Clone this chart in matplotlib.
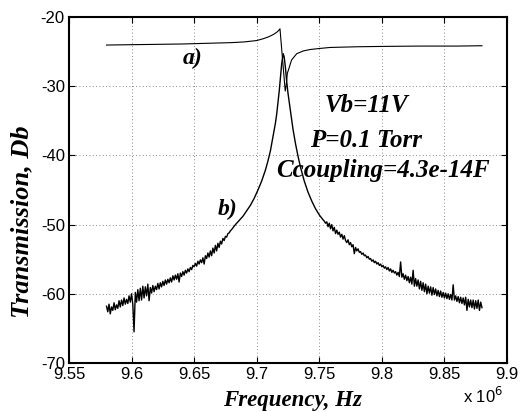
import numpy as np
import matplotlib
matplotlib.use('Agg')
import matplotlib.pyplot as plt

plt.rcParams['axes.unicode_minus'] = False

# Curva a) : transmision casi plana con la resonancia cerca de 9.72 MHz
freq_a = [9.580, 9.600, 9.620, 9.640, 9.660, 9.680, 9.690, 9.700, 9.705, 9.709,
          9.712, 9.714, 9.716, 9.7175, 9.7186, 9.7228, 9.7235, 9.7245, 9.7253,
          9.7279, 9.732, 9.7373, 9.7426, 9.750, 9.7586, 9.780, 9.800, 9.830,
          9.860, 9.880]
db_a = [-24.05, -24.0, -23.95, -23.9, -23.8, -23.7, -23.6, -23.4, -23.15, -22.9,
        -22.65, -22.45, -22.2, -21.95, -21.7, -30.7, -30.0, -28.1, -27.7,
        -26.2, -25.3, -24.9, -24.7, -24.55, -24.4, -24.3, -24.25, -24.2,
        -24.2, -24.15]

# Curva b) : lado izquierdo con ruido (9.580 .. 9.680, paso 1 kHz)
db_b_left = [
    -61.8, -62.6, -61.5, -62.9, -61.9, -62.4, -61.3, -62.3, -61.6, -62.1,
    -61.0, -61.9, -60.9, -61.7, -60.6, -61.5, -60.8, -61.4, -60.3, -61.2,
    -60.0, -61.5, -65.5, -59.8, -61.2, -59.4, -61.0, -59.2, -60.9, -58.9,
    -60.6, -59.0, -60.3, -58.6, -61.0, -59.1, -59.9, -58.8, -59.7, -58.9,
    -59.4, -58.5, -59.3, -58.4, -59.0, -58.2, -58.8, -58.0, -58.6, -57.9,
    -58.4, -57.7, -58.3, -57.4, -58.0, -57.3, -57.9, -57.1, -58.3, -57.0,
    -57.5, -56.8, -57.3, -56.6, -57.0, -56.4, -56.8, -56.2, -56.5, -55.9,
    -56.1, -55.6, -56.0, -55.3, -55.7, -55.1, -55.5, -54.8, -55.7, -54.5,
    -54.9, -54.1, -54.7, -53.8, -54.5, -53.4, -54.1, -53.0, -53.8, -52.7,
    -53.3, -52.4, -52.8, -52.0, -52.3, -51.7, -51.8, -51.3, -51.2, -50.9,
    -50.7]

# Curva b) : zona del pico (sin ruido visible)
freq_b_mid = [9.683, 9.686, 9.689, 9.692, 9.695, 9.698, 9.701, 9.704, 9.707, 9.709,
              9.711, 9.713, 9.715, 9.716, 9.717, 9.718, 9.719, 9.720, 9.7212,
              9.722, 9.723, 9.724, 9.725, 9.726, 9.727, 9.728, 9.729, 9.731,
              9.733, 9.735, 9.738, 9.741, 9.744, 9.747, 9.750, 9.753]
db_b_mid = [-50.0, -49.4, -48.8, -48.0, -47.2, -46.2, -45.0, -43.7, -42.1, -40.8,
            -39.3, -37.3, -35.3, -34.0, -32.4, -30.7, -28.7, -26.7, -25.3,
            -25.8, -27.4, -29.4, -31.0, -32.3, -33.7, -35.0, -36.2, -38.3,
            -40.1, -41.7, -43.7, -45.3, -46.6, -47.7, -48.6, -49.3]

# Curva b) : lado derecho con ruido (9.754 .. 9.880, paso 1 kHz)
db_b_right = [
    -49.5, -49.8, -49.6, -50.3, -49.8, -50.6, -50.0, -50.9, -50.4, -51.3,
    -50.8, -51.4, -51.1, -51.8, -51.4, -52.1, -51.6, -52.3, -52.6, -52.2,
    -52.9, -52.6, -53.2, -52.9, -54.2, -53.3, -53.8, -53.5, -54.0, -53.9,
    -54.3, -54.1, -54.5, -54.4, -54.8, -54.6, -55.0, -54.9, -55.3, -55.1,
    -55.5, -55.3, -55.7, -55.5, -55.9, -55.7, -56.1, -55.9, -56.3, -56.1,
    -56.5, -56.2, -56.7, -56.4, -56.9, -56.6, -57.0, -56.8, -57.3, -56.9,
    -57.5, -55.4, -57.6, -57.1, -57.9, -57.3, -58.1, -57.5, -58.4, -57.6,
    -58.6, -56.6, -58.9, -57.8, -58.9, -58.0, -59.3, -58.2, -59.5, -58.4,
    -59.7, -58.6, -60.0, -58.9, -59.9, -59.0, -60.2, -59.1, -60.1, -59.3,
    -60.3, -59.5, -60.4, -59.6, -60.5, -59.8, -60.6, -59.9, -60.7, -60.0,
    -60.8, -60.1, -60.9, -58.7, -60.9, -60.3, -61.1, -60.4, -61.3, -60.5,
    -61.4, -60.6, -61.6, -60.5, -62.4, -60.8, -61.9, -60.9, -62.0, -60.9,
    -62.2, -61.0, -62.1, -60.9, -62.4, -61.2, -62.0]

freq_b_left = np.linspace(9.580, 9.680, len(db_b_left))
freq_b_right = np.linspace(9.880 - 0.001 * (len(db_b_right) - 1), 9.880, len(db_b_right))
freq_b = np.concatenate([freq_b_left, freq_b_mid, freq_b_right]) * 1e6
db_b = np.concatenate([db_b_left, db_b_mid, db_b_right])

serif = 'Liberation Serif'
sans = 'Liberation Sans'

fig = plt.figure(figsize=(5.21, 4.11), dpi=100)
ax = fig.add_axes([0.1324, 0.1168, 0.8407, 0.8418])

ax.plot(np.array(freq_a) * 1e6, db_a, color='black', lw=0.8)
ax.plot(freq_b, db_b, color='black', lw=1.0)

ax.set_xlim(9.55e6, 9.9e6)
ax.set_ylim(-70, -20)
ax.set_xticks(np.arange(9.55, 9.901, 0.05) * 1e6)
ax.set_xticklabels(['9.55', '9.6', '9.65', '9.7', '9.75', '9.8', '9.85', '9.9'])
ax.set_yticks([-70, -60, -50, -40, -30, -20])
ax.grid(True, ls=(0, (1, 3)), color='#666666', lw=0.6)
ax.tick_params(direction='in', length=4, width=0.8, top=True, right=True,
               labelsize=12, pad=3)
for lbl in ax.get_xticklabels() + ax.get_yticklabels():
    lbl.set_fontfamily(sans)
for s in ax.spines.values():
    s.set_linewidth(1.5)

tfont = dict(family=serif, weight='bold', style='italic')
ax.set_xlabel('Frequency, Hz', fontsize=16.5, **tfont)
ax.set_ylabel('Transmission, Db', fontsize=19, **tfont)
ax.yaxis.set_label_coords(-0.082, 0.408)
ax.xaxis.set_label_coords(0.511, -0.077)

ax.text(9.6487e6, -26.8, 'a)', fontsize=17, ha='center', va='baseline', **tfont)
ax.text(9.677e6, -48.6, 'b)', fontsize=17, ha='center', va='baseline', **tfont)
ax.text(9.7879e6, -33.7, 'Vb=11V', fontsize=18, ha='center', va='baseline', **tfont)
ax.text(9.7873e6, -38.8, 'P=0.1 Torr', fontsize=18, ha='center', va='baseline', **tfont)
ax.text(9.8009e6, -43.1, 'Ccoupling=4.3e-14F', fontsize=18, ha='center', va='baseline', **tfont)

fig.text(0.966, 0.02, r'x 10$^{6}$', fontsize=12, ha='right', va='baseline', family=sans)

fig.savefig('out.png', dpi=100)
